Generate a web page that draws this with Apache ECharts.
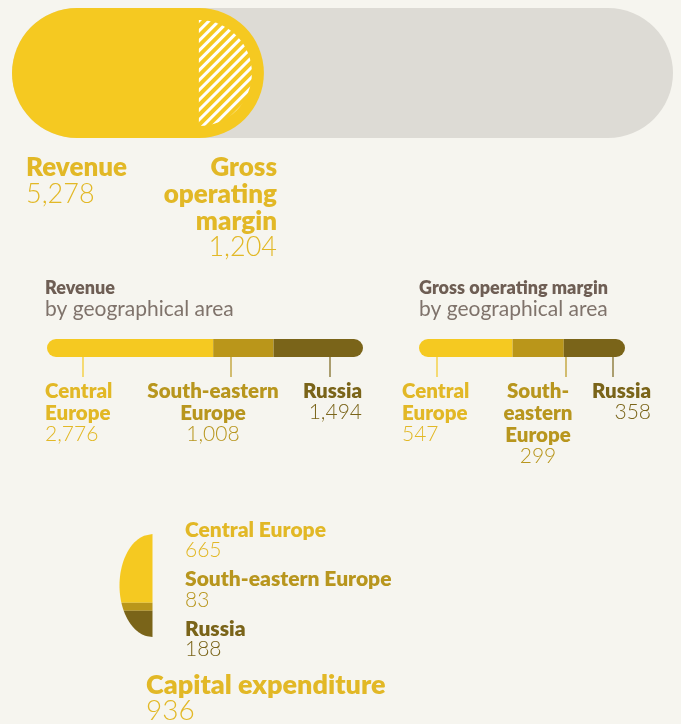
<!DOCTYPE html>
<html>
<head>
<meta charset="utf-8">
<script src="https://cdn.jsdelivr.net/npm/echarts@6/dist/echarts.min.js"></script>
<style>
    html, body { margin: 0; padding: 0; background: #F6F5EF; }
    #chart { width: 681px; height: 724px; }
</style>
</head>
<body>
<div id="chart"></div>
<script>
// DATA
const TOTAL_NAMES = ['Revenue', 'Gross operating margin'];
const TOTAL_VALUES = [5278, 1204];
const TRACK_MAX = 13850;            // value at the right end of the grey track
const SUBTITLE = 'by geographical area';
const AREAS = ['Central Europe', 'South-eastern Europe', 'Russia'];
const REV_AREA_LINES = [['Central', 'Europe'], ['South-eastern', 'Europe'], ['Russia']];
const GOM_AREA_LINES = [['Central', 'Europe'], ['South-', 'eastern', 'Europe'], ['Russia']];
const REVENUE_BY_AREA = [2776, 1008, 1494];
const GOM_BY_AREA = [547, 299, 358];
const CAPEX_NAME = 'Capital expenditure';
const CAPEX_TOTAL = 936;
const CAPEX_BY_AREA = [665, 83, 188];

// STYLE
const FONT = 'Lato';
const BOLD = 800;
const YELLOW = '#F5C921';
const AREA_COLORS = ['#F5C921', '#BA961A', '#7A6419'];
const AREA_TEXT = ['#E2B826', '#B8961E', '#7A6419'];
const TITLE_TEXT = '#E2B826';
const HEAD_TEXT = '#6E5E54';
const SUB_TEXT = '#7F736B';

const fmt = v => v.toLocaleString('en-US');
const sum = arr => arr.reduce((a, b) => a + b, 0);

function label(x, y, text, size, weight, color, align) {
    return {
        type: 'text', x: x, y: y, silent: true,
        style: {
            text: text, fill: color, fontFamily: FONT, fontSize: size,
            fontWeight: weight, align: align || 'left', verticalAlign: 'middle'
        }
    };
}

function leader(x, color) {
    return {
        type: 'line', silent: true,
        shape: { x1: x, y1: 357, x2: x, y2: 377 },
        style: { stroke: color, lineWidth: 1.2 }
    };
}

// stacked area bar for one grid
function areaBars(values, idx) {
    return values.map((v, i) => ({
        type: 'bar', xAxisIndex: idx, yAxisIndex: idx, stack: 'area' + idx,
        barWidth: 18, silent: true, data: [v],
        itemStyle: {
            color: AREA_COLORS[i],
            borderRadius: i === 0 ? [9, 0, 0, 9] : (i === values.length - 1 ? [0, 9, 9, 0] : 0)
        }
    }));
}

// labels under a stacked bar: lines of name (bold) then value (light)
function areaLabels(lines, values, anchors) {
    const out = [];
    lines.forEach((ls, i) => {
        const a = anchors[i];
        ls.forEach((t, k) => out.push(label(a.x, 391 + 22 * k, t, 20.5, BOLD, AREA_TEXT[i], a.align)));
        out.push(label(a.x, 391 + 22 * ls.length - 1, fmt(values[i]), 21, 300, AREA_TEXT[i], a.align));
    });
    return out;
}

// Capex half-ellipse, sliced horizontally by area share
const CAPEX_CX = 152.5, CAPEX_CY = 585.5, CAPEX_RX = 33, CAPEX_RY = 51.5;
const capexCum = [0];
CAPEX_BY_AREA.forEach(v => capexCum.push(capexCum[capexCum.length - 1] + v));
function areaShare(t) {
    return (t * Math.sqrt(Math.max(0, 1 - t * t)) + Math.asin(t) + Math.PI / 2) / Math.PI;
}
function cutAt(f) {
    let lo = -1, hi = 1;
    for (let k = 0; k < 40; k++) {
        const mid = (lo + hi) / 2;
        if (areaShare(mid) < f) lo = mid; else hi = mid;
    }
    return (lo + hi) / 2;
}
function renderCapex(params, api) {
    const i = params.dataIndex;
    const total = capexCum[capexCum.length - 1];
    const t0 = cutAt(capexCum[i] / total), t1 = cutAt(capexCum[i + 1] / total);
    const pts = [];
    const N = 40;
    for (let k = 0; k <= N; k++) {
        const t = t0 + (t1 - t0) * k / N;
        pts.push([CAPEX_CX - CAPEX_RX * Math.sqrt(Math.max(0, 1 - t * t)), CAPEX_CY + CAPEX_RY * t]);
    }
    pts.push([CAPEX_CX, CAPEX_CY + CAPEX_RY * t1]);
    pts.push([CAPEX_CX, CAPEX_CY + CAPEX_RY * t0]);
    return { type: 'polygon', shape: { points: pts }, style: { fill: AREA_COLORS[i] } };
}

// TEXTS
const graphics = [];
graphics.push(label(26, 168, TOTAL_NAMES[0], 26, BOLD, TITLE_TEXT));
graphics.push(label(26, 194, fmt(TOTAL_VALUES[0]), 27, 300, TITLE_TEXT));
const gomWords = TOTAL_NAMES[1].split(' ');
gomWords.forEach((w, k) => graphics.push(label(277, 168 + 27 * k, w, 26, BOLD, TITLE_TEXT, 'right')));
graphics.push(label(277, 168 + 27 * gomWords.length - 2, fmt(TOTAL_VALUES[1]), 27, 300, TITLE_TEXT, 'right'));

graphics.push(label(45, 288, TOTAL_NAMES[0], 18, BOLD, HEAD_TEXT));
graphics.push(label(45, 309, SUBTITLE, 21, 'normal', SUB_TEXT));
graphics.push(label(419, 288, TOTAL_NAMES[1], 18, BOLD, HEAD_TEXT));
graphics.push(label(419, 309, SUBTITLE, 21, 'normal', SUB_TEXT));

graphics.push(...areaLabels(REV_AREA_LINES, REVENUE_BY_AREA,
    [{ x: 45, align: 'left' }, { x: 213, align: 'center' }, { x: 362, align: 'right' }]));
graphics.push(...areaLabels(GOM_AREA_LINES, GOM_BY_AREA,
    [{ x: 402, align: 'left' }, { x: 538, align: 'center' }, { x: 651, align: 'right' }]));
[83, 231, 330].forEach((x, i) => graphics.push(leader(x, AREA_COLORS[i])));
[437, 566, 613].forEach((x, i) => graphics.push(leader(x, AREA_COLORS[i])));

AREAS.forEach((name, i) => {
    graphics.push(label(185, 530 + 49.4 * i, name, 21, BOLD, AREA_TEXT[i]));
    graphics.push(label(185, 550.5 + 49.4 * i, fmt(CAPEX_BY_AREA[i]), 21, 300, AREA_TEXT[i]));
});
graphics.push(label(146, 685, CAPEX_NAME, 27, BOLD, TITLE_TEXT));
graphics.push(label(146, 711, fmt(CAPEX_TOTAL), 28, 300, TITLE_TEXT));

// CHART
const chart = echarts.init(document.getElementById('chart'));
const option = {
    backgroundColor: '#F6F5EF',
    animation: false,
    grid: [
        { left: 12, top: 8, width: 661, height: 130 },
        { left: 47, top: 339, width: 316, height: 18 },
        { left: 419, top: 339, width: 206, height: 18 }
    ],
    xAxis: [
        { gridIndex: 0, type: 'value', min: 0, max: TRACK_MAX, show: false },
        { gridIndex: 1, type: 'value', min: 0, max: sum(REVENUE_BY_AREA), show: false },
        { gridIndex: 2, type: 'value', min: 0, max: sum(GOM_BY_AREA), show: false }
    ],
    yAxis: [0, 1, 2].map(i => ({ gridIndex: i, type: 'category', data: [''], show: false })),
    series: [
        {
            id: 'total', type: 'bar', xAxisIndex: 0, yAxisIndex: 0, barWidth: 130, silent: true,
            data: [TOTAL_VALUES[0]],
            showBackground: true,
            backgroundStyle: { color: '#DDDBD5', borderRadius: 65 },
            itemStyle: { color: YELLOW, borderRadius: 65 }
        },
        ...areaBars(REVENUE_BY_AREA, 1),
        ...areaBars(GOM_BY_AREA, 2),
        {
            id: 'capex', type: 'custom', coordinateSystem: 'none', silent: true,
            data: CAPEX_BY_AREA.map((v, i) => [v, i]),
            renderItem: renderCapex
        }
    ],
    graphic: graphics
};
chart.setOption(option);

// hatched half disc for gross operating margin, concentric with the revenue bar's end cap
const end = chart.convertToPixel({ xAxisIndex: 0, yAxisIndex: 0 }, [TOTAL_VALUES[0], 0]);
chart.setOption({
    series: [{
        id: 'hatch', type: 'pie', silent: true, radius: 53,
        center: [end[0] - 65, end[1]],
        startAngle: 90, clockwise: true,
        label: { show: false }, labelLine: { show: false },
        itemStyle: { borderWidth: 0 },
        data: [
            {
                value: TOTAL_VALUES[1],
                itemStyle: {
                    color: YELLOW,
                    decal: {
                        symbol: 'rect', symbolSize: 1, color: '#FFFFFF',
                        dashArrayX: [1, 0], dashArrayY: [2.5, 4], rotation: -Math.PI / 4
                    }
                }
            },
            { value: TOTAL_VALUES[1], itemStyle: { color: 'rgba(0,0,0,0)' } }
        ]
    }]
});
</script>
</body>
</html>
